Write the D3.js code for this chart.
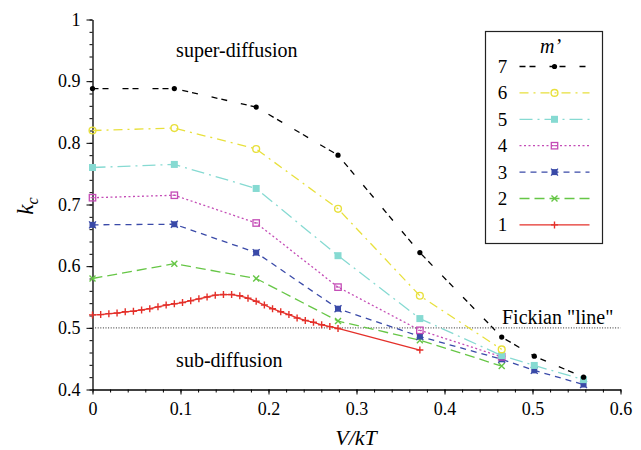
<!DOCTYPE html>
<html>
<head>
<meta charset="utf-8">
<script src="https://cdn.jsdelivr.net/npm/d3@7"></script>
<style>
	body { margin: 0; background: #fff; }
	svg { display: block; font-family: "Liberation Serif", "Times New Roman", serif; }
	.tick text { font-family: "Liberation Serif", "Times New Roman", serif; font-size: 18px; fill: #000; }
</style>
</head>
<body>
<div id="chart"></div>
<script>

// x positions (V/kT) shared by the coarse series
var xsLong = [0, 0.093, 0.186, 0.279, 0.372, 0.465, 0.502, 0.558]
var xsShort = [0, 0.093, 0.186, 0.279, 0.372, 0.465]

var k7 = [0.888, 0.888, 0.858, 0.780, 0.622, 0.485, 0.454, 0.420]
var k6 = [0.820, 0.824, 0.790, 0.693, 0.552, 0.465]
var k5 = [0.760, 0.765, 0.726, 0.617, 0.515, 0.455, 0.439, 0.416]
var k4 = [0.711, 0.715, 0.670, 0.566, 0.496, 0.453]
var k3 = [0.667, 0.668, 0.622, 0.531, 0.486, 0.449, 0.431, 0.408]
var k2 = [0.580, 0.604, 0.580, 0.511, 0.480, 0.438]

var xs1 = [0, 0.0093, 0.0186, 0.0279, 0.0372, 0.0465, 0.0558, 0.0651, 0.0744, 0.0837,
	0.093, 0.1023, 0.1116, 0.1209, 0.1302, 0.1395, 0.1488, 0.1581, 0.1674, 0.1767,
	0.186, 0.1953, 0.2046, 0.2139, 0.2232, 0.2325, 0.2418, 0.2511, 0.2604, 0.2697,
	0.279, 0.372]
var k1 = [0.521, 0.5215, 0.523, 0.524, 0.526, 0.527, 0.529, 0.531, 0.534, 0.537,
	0.539, 0.541, 0.544, 0.547, 0.550, 0.553, 0.554, 0.554, 0.552, 0.548,
	0.543, 0.537, 0.531, 0.526, 0.5215, 0.516, 0.512, 0.509, 0.505, 0.502,
	0.499, 0.464]

var xTicks = [0, 0.1, 0.2, 0.3, 0.4, 0.5, 0.6]
var yTicks = [0.4, 0.5, 0.6, 0.7, 0.8, 0.9, 1]
var fickian = 0.5

var series = [
	{ name: "7", xs: xsLong, ys: k7, color: "#000000", dash: "6,4,6,14", marker: "dot" },
	{ name: "6", xs: xsShort, ys: k6, color: "#e8e03c", dash: "9,5,2,5", marker: "ring" },
	{ name: "5", xs: xsLong, ys: k5, color: "#86dad2", dash: "13,5,2,5", marker: "square" },
	{ name: "4", xs: xsShort, ys: k4, color: "#c44cb6", dash: "2,2.5", marker: "box" },
	{ name: "3", xs: xsLong, ys: k3, color: "#3a4aa8", dash: "6,5", marker: "xsquare" },
	{ name: "2", xs: xsShort, ys: k2, color: "#66c646", dash: "10,5", marker: "cross" },
	{ name: "1", xs: xs1, ys: k1, color: "#e4302a", dash: null, marker: "plus" }
]

var width = 641, height = 450
var serif = "'Liberation Serif', 'Times New Roman', serif"

var x = d3.scaleLinear().domain([0, 0.6]).range([92.5, 620.5])
var y = d3.scaleLinear().domain([0.4, 1]).range([389.5, 19.5])

var svg = d3.select("#chart").append("svg")
	.attr("width", width)
	.attr("height", height)
	.attr("font-family", serif)

// minor ticks every 0.02
var minorX = d3.range(0, 0.6001, 0.02)
var minorY = d3.range(0.4, 1.0001, 0.02)

svg.append("g")
	.attr("transform", "translate(0," + y(0.4) + ")")
	.call(d3.axisBottom(x).tickValues(minorX).tickSize(3).tickFormat(""))
	.call(function(g) { g.select(".domain").remove() })

svg.append("g")
	.attr("transform", "translate(" + x(0) + ",0)")
	.call(d3.axisLeft(y).tickValues(minorY).tickSize(3).tickFormat(""))
	.call(function(g) { g.select(".domain").remove() })

svg.append("g")
	.attr("transform", "translate(0," + y(0.4) + ")")
	.call(d3.axisBottom(x).tickValues(xTicks).tickSizeInner(5).tickSizeOuter(0).tickPadding(8).tickFormat(d3.format("")))
	.attr("font-family", serif)
	.attr("font-size", 18)
	.call(function(g) { g.select(".domain").attr("stroke-width", 1.3) })

svg.append("g")
	.attr("transform", "translate(" + x(0) + ",0)")
	.call(d3.axisLeft(y).tickValues(yTicks).tickSizeInner(6).tickSizeOuter(0).tickPadding(6).tickFormat(d3.format("")))
	.attr("font-family", serif)
	.attr("font-size", 18)
	.call(function(g) { g.select(".domain").attr("stroke-width", 1.3) })

// Fickian line
svg.append("line")
	.attr("x1", x(0))
	.attr("x2", x(0.6))
	.attr("y1", y(fickian))
	.attr("y2", y(fickian))
	.attr("stroke", "#555")
	.attr("stroke-width", 1.2)
	.attr("stroke-dasharray", "1,1.6")

var line = d3.line()
	.x(function(d) { return x(d[0]) })
	.y(function(d) { return y(d[1]) })

function drawMarker(g, type, color, cx, cy) {
	if (type === "dot") {
		g.append("circle").attr("cx", cx).attr("cy", cy).attr("r", 2.6).attr("fill", color)
	} else if (type === "ring") {
		g.append("circle").attr("cx", cx).attr("cy", cy).attr("r", 3.4)
			.attr("fill", "none").attr("stroke", color).attr("stroke-width", 1.4)
	} else if (type === "square") {
		g.append("rect").attr("x", cx - 3.5).attr("y", cy - 3.5).attr("width", 7).attr("height", 7).attr("fill", color)
	} else if (type === "box") {
		g.append("rect").attr("x", cx - 3.2).attr("y", cy - 3.2).attr("width", 6.4).attr("height", 6.4)
			.attr("fill", "none").attr("stroke", color).attr("stroke-width", 1.3)
		g.append("line").attr("x1", cx - 2).attr("x2", cx + 2).attr("y1", cy).attr("y2", cy)
			.attr("stroke", color).attr("stroke-width", 1)
	} else if (type === "xsquare") {
		g.append("rect").attr("x", cx - 3).attr("y", cy - 3).attr("width", 6).attr("height", 6).attr("fill", color)
		g.append("path").attr("d", "M" + (cx - 3.5) + "," + (cy - 3.5) + "L" + (cx + 3.5) + "," + (cy + 3.5) +
			"M" + (cx + 3.5) + "," + (cy - 3.5) + "L" + (cx - 3.5) + "," + (cy + 3.5))
			.attr("stroke", color).attr("stroke-width", 1.2)
	} else if (type === "cross") {
		g.append("path").attr("d", "M" + (cx - 3) + "," + (cy - 3) + "L" + (cx + 3) + "," + (cy + 3) +
			"M" + (cx + 3) + "," + (cy - 3) + "L" + (cx - 3) + "," + (cy + 3))
			.attr("stroke", color).attr("stroke-width", 1.4)
	} else if (type === "plus") {
		g.append("path").attr("d", "M" + (cx - 3.5) + "," + cy + "L" + (cx + 3.5) + "," + cy +
			"M" + cx + "," + (cy - 3.5) + "L" + cx + "," + (cy + 3.5))
			.attr("stroke", color).attr("stroke-width", 1.4)
	}
}

// draw 1 first so 7 ends up on top
series.slice().reverse().forEach(function(s) {
	var pts = s.xs.map(function(v, i) { return [v, s.ys[i]] })
	var g = svg.append("g")
	g.append("path")
		.datum(pts)
		.attr("d", line)
		.attr("fill", "none")
		.attr("stroke", s.color)
		.attr("stroke-width", 1.3)
		.attr("stroke-dasharray", s.dash)
	pts.forEach(function(p) { drawMarker(g, s.marker, s.color, x(p[0]), y(p[1])) })
})

// annotations
svg.append("text")
	.attr("x", x(0.095))
	.attr("y", 57)
	.attr("font-size", 20)
	.text("super-diffusion")

svg.append("text")
	.attr("x", x(0.095))
	.attr("y", 367)
	.attr("font-size", 20)
	.text("sub-diffusion")

svg.append("text")
	.attr("x", 502)
	.attr("y", 324)
	.attr("font-size", 20)
	.text("Fickian \"line\"")

// axis titles
svg.append("text")
	.attr("x", 356)
	.attr("y", 445)
	.attr("text-anchor", "middle")
	.attr("font-size", 22)
	.attr("font-style", "italic")
	.text("V/kT")

var ylab = svg.append("text")
	.attr("transform", "translate(33,206) rotate(-90)")
	.attr("text-anchor", "middle")
	.attr("font-size", 23)
	.attr("font-style", "italic")
ylab.append("tspan").text("k")
ylab.append("tspan").attr("font-size", 16).attr("dy", 5).text("c")

// legend
var legend = svg.append("g").attr("transform", "translate(485.5,31.5)")

legend.append("rect")
	.attr("width", 117)
	.attr("height", 212)
	.attr("fill", "#fff")
	.attr("stroke", "#222")
	.attr("stroke-width", 1.2)

legend.append("text")
	.attr("x", 65)
	.attr("y", 21)
	.attr("text-anchor", "middle")
	.attr("font-size", 20)
	.attr("font-style", "italic")
	.text("m’")

series.forEach(function(s, i) {
	var cy = 35 + i * 26.4
	var g = legend.append("g")
	g.append("text")
		.attr("x", 17)
		.attr("y", cy + 6.5)
		.attr("text-anchor", "middle")
		.attr("font-size", 19)
		.text(s.name)
	g.append("line")
		.attr("x1", 34)
		.attr("x2", 104)
		.attr("y1", cy)
		.attr("y2", cy)
		.attr("stroke", s.color)
		.attr("stroke-width", 1.3)
		.attr("stroke-dasharray", s.dash)
	drawMarker(g, s.marker, s.color, 69, cy)
})

</script>
</body>
</html>
